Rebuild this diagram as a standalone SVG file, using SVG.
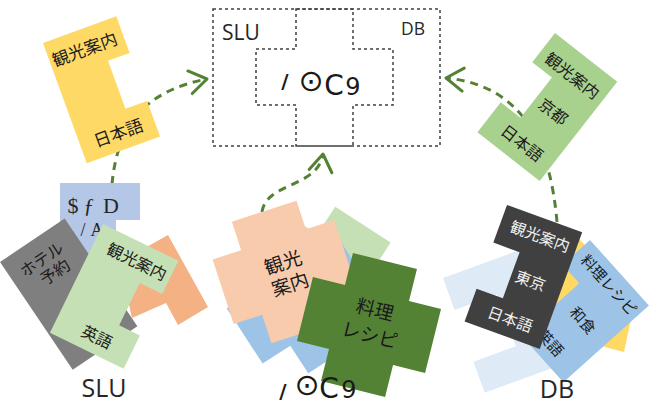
<svg xmlns="http://www.w3.org/2000/svg" width="660" height="409" viewBox="0 0 660 409">
<style>
.jp{font-family:"Noto Sans CJK JP","Noto Sans CJK SC",sans-serif;text-anchor:middle;dominant-baseline:central;fill:#1a1a1a}
.jpw{font-family:"Noto Sans CJK JP","Noto Sans CJK SC",sans-serif;text-anchor:middle;dominant-baseline:central;fill:#f2f2f2}
.lbl{font-family:"Open Sans","Liberation Sans",sans-serif;fill:#262626}
.conn{fill:none;stroke:#548235;stroke-width:3;stroke-dasharray:8 6}
.frame{fill:none;stroke:#404040;stroke-width:1.5;stroke-dasharray:3 3}
.glyph{font-family:"DejaVu Sans",sans-serif;fill:#1a1a1a;text-anchor:middle}
.ser{font-family:"Liberation Serif",serif;fill:#262626;text-anchor:middle}
</style>
<defs>
<marker id="arr" viewBox="0 0 20 24" refX="17" refY="12" markerWidth="23" markerHeight="27.6" markerUnits="userSpaceOnUse" orient="auto">
<path d="M2,2 L17,12 L2,22" fill="none" stroke="#548235" stroke-width="2.6" stroke-linecap="round" stroke-linejoin="round"/>
</marker>
<path id="cross66" d="M-33,-66 H33 V-33 H66 V33 H33 V66 H-33 V33 H-66 V-33 H-33 Z"/>
</defs>

<g id="connectors">
<path class="conn" d="M112,184 C118,120 150,90 207,79" marker-end="url(#arr)"/>
<path class="conn" d="M557,222 C550,140 520,85 446,78" marker-end="url(#arr)"/>
<path class="conn" d="M262,212 C266,182 318,188 323,154" marker-end="url(#arr)"/>
</g>

<g id="n-box">
<rect class="frame" x="213" y="9" width="227" height="137"/>
<path class="frame" d="M296,9 H353 V49 H393 V105 H353 V146 H296 V105 H256 V49 H296 Z"/>
<text class="lbl" x="222" y="40" font-size="21">SLU</text>
<text class="lbl" x="425" y="35" font-size="17.5" text-anchor="end">DB</text>
<text class="glyph"><tspan x="285" y="88" font-size="20" font-weight="bold">/</tspan><tspan x="311" y="91" font-size="30">⊙</tspan><tspan x="334" y="95" font-size="28">C</tspan><tspan x="353" y="95" font-size="24">9</tspan></text>
</g>

<g id="n-yellow" transform="translate(43,43) rotate(-20)">
<path d="M0,0 H78 V39 H55 V90 H78 V128 H0 Z" fill="#FFD966"/>
<text class="jp" x="37" y="19" font-size="17">観光案内</text>
<text class="jp" x="40" y="109" font-size="17">日本語</text>
</g>

<g id="n-green" transform="translate(555,33) rotate(38)">
<path d="M0,0 H79 V126 H0 V88 H25 V37 H0 Z" fill="#A9D18E"/>
<text class="jp" x="40" y="22" font-size="16">観光案内</text>
<text class="jp" x="47" y="62" font-size="16">京都</text>
<text class="jp" x="42" y="106" font-size="16">日本語</text>
</g>

<g id="slu-cluster">
<g id="slu-peach"><polygon points="168,235 208,307 178,325 166,303 132,318 128,300 120,262" fill="#F4B183"/></g>
<g id="slu-blue">
<polygon points="60,183 140,183 140,220 116,220 116,300 60,300" fill="#B4C7E7"/>
<text class="ser" x="73 89 111" y="213" font-size="22">$ƒD</text>
<text class="ser" x="83 97" y="236" font-size="18">/A</text>
</g>
<g id="slu-gray" transform="translate(0,262) rotate(-34)">
<rect width="78" height="130" fill="#7F7F7F"/>
<text class="jp" x="36" y="20" font-size="16">ホテル</text>
<text class="jp" x="40" y="38" font-size="16">予約</text>
</g>
<g id="slu-green" transform="translate(103,224) rotate(26)">
<path d="M0,0 H84 V37 H59 V84 H82 V121 H0 Z" fill="#C5E0B4"/>
<text class="jp" x="47" y="18" font-size="16">観光案内</text>
<text class="jp" x="44" y="103" font-size="16">英語</text>
</g>
<text id="slu-label" class="lbl" x="104" y="397" font-size="25" text-anchor="middle">SLU</text>
</g>

<g id="mid-cluster">
<g id="mid-lightgreen" transform="translate(327,280) rotate(33)"><use href="#cross66" fill="#C5E0B4"/></g>
<g id="mid-blue" transform="translate(300,300) rotate(-33)"><use href="#cross66" fill="#9DC3E6"/></g>
<g id="mid-peach" transform="translate(284,272) rotate(-18)">
<path d="M-34,-64 H34 V-34 H64 V34 H34 V64 H-34 V34 H-64 V-34 H-34 Z" fill="#F8CBAD"/>
<text class="jp" x="2" y="-11" font-size="19">観光</text>
<text class="jp" x="2" y="12" font-size="19">案内</text>
</g>
<g id="mid-darkgreen" transform="translate(369,325) rotate(14)">
<use href="#cross66" fill="#548235"/>
<text class="jp" x="2" y="-18" font-size="19">料理</text>
<text class="jp" x="3" y="8" font-size="19">レシピ</text>
</g>
<text id="mid-label" class="glyph"><tspan x="283" y="398" font-size="20" font-weight="bold">/</tspan><tspan x="307" y="395" font-size="30">⊙</tspan><tspan x="329" y="398" font-size="28">C</tspan><tspan x="349" y="398" font-size="24">9</tspan></text>
</g>

<g id="db-cluster">
<g id="db-pale" transform="translate(443,278) rotate(-20)"><path d="M0,0 H110 V122 H0 V89 H45 V34 H0 Z" fill="#DEEBF7"/></g>
<g id="db-yellow"><polygon points="576,236 636,296 624,352 540,330" fill="#FFD966"/></g>
<g id="db-blue" transform="translate(590,240) rotate(48)">
<path d="M0,0 H88 V115 H0 V80 H25 V37 H0 Z" fill="#9DC3E6"/>
<text class="jp" x="46" y="15" font-size="15">料理レシピ</text>
<text class="jp" x="55" y="58" font-size="15">和食</text>
<text class="jp" x="50" y="97" font-size="15">英語</text>
</g>
<g id="db-gray" transform="translate(507,205) rotate(20)">
<path d="M0,0 H80 V124 H0 V89 H28 V40 H0 Z" fill="#404040"/>
<text class="jpw" x="42" y="17" font-size="15.5">観光案内</text>
<text class="jpw" x="48" y="62" font-size="15.5">東京</text>
<text class="jpw" x="42" y="105" font-size="15.5">日本語</text>
</g>
<text id="db-label" class="lbl" x="557" y="398" font-size="25" text-anchor="middle">DB</text>
</g>
</svg>
